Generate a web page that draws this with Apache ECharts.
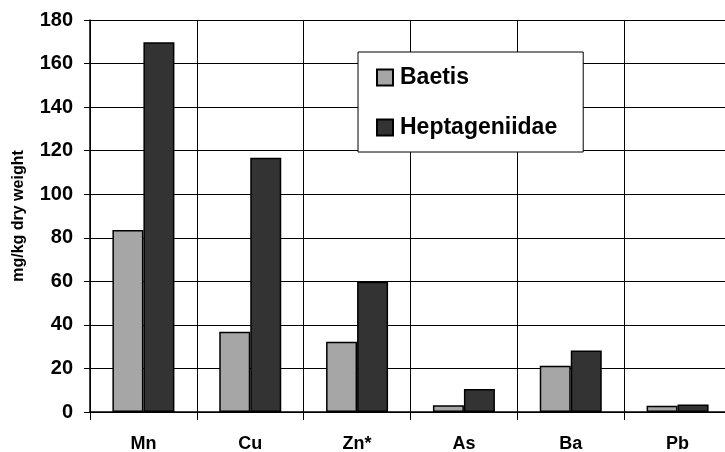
<!DOCTYPE html>
<html>
<head>
<meta charset="utf-8">
<script src="https://cdn.jsdelivr.net/npm/echarts@6/dist/echarts.min.js"></script>
<style>
  html, body { margin: 0; padding: 0; background: #fff; }
  #main { width: 725px; height: 452px; }
</style>
</head>
<body>
<div id="main"></div>
<script>
// values
const elements = ['Mn', 'Cu', 'Zn*', 'As', 'Ba', 'Pb']
const baetis = [83.6, 36.9, 32.3, 3.1, 21.2, 2.9]
const heptageniidae = [169.8, 116.8, 59.8, 10.6, 28.2, 3.5]
const yTicks = [0, 20, 40, 60, 80, 100, 120, 140, 160, 180]

const font = 'Liberation Sans, Arial, sans-serif'

const option = {
  animation: false,
  backgroundColor: '#fff',
  textStyle: { fontFamily: font },
  legend: {
    orient: 'vertical',
    left: 358,
    top: 52,
    padding: [14, 26, 13, 18],
    itemGap: 27,
    itemWidth: 16,
    itemHeight: 16,
    icon: 'rect',
    backgroundColor: '#fff',
    borderColor: '#000',
    borderWidth: 1,
    textStyle: { fontSize: 23, fontWeight: 'bold', color: '#000', fontFamily: font, padding: [0, 0, 0, 2] }
  },
  grid: {
    left: 90,
    top: 20,
    width: 641,
    height: 392,
    outerBoundsMode: 'none'
  },
  xAxis: {
    type: 'category',
    data: elements,
    axisLine: { lineStyle: { color: '#000', width: 1.5 } },
    axisTick: { show: true, length: 8, lineStyle: { color: '#000' } },
    splitLine: { show: true, lineStyle: { color: '#000', width: 1 } },
    axisLabel: { margin: 23, fontSize: 18, fontWeight: 'bold', color: '#000', fontFamily: font }
  },
  yAxis: {
    type: 'value',
    min: yTicks[0],
    max: yTicks[yTicks.length - 1],
    interval: yTicks[1] - yTicks[0],
    name: 'mg/kg dry weight',
    nameLocation: 'middle',
    nameGap: 63,
    nameTextStyle: { fontSize: 16, fontWeight: 'bold', color: '#000', fontFamily: font },
    axisLine: { show: true, lineStyle: { color: '#000', width: 1.5 } },
    axisTick: { show: true, length: 6, lineStyle: { color: '#000' } },
    splitLine: { show: true, lineStyle: { color: '#000', width: 1 } },
    axisLabel: { margin: 17, fontSize: 20, fontWeight: 'bold', color: '#000', fontFamily: font }
  },
  series: [
    {
      name: 'Baetis',
      type: 'bar',
      data: baetis,
      barWidth: 31,
      barGap: '0%',
      itemStyle: { color: '#a6a6a6', borderColor: '#000', borderWidth: 1.5 }
    },
    {
      name: 'Heptageniidae',
      type: 'bar',
      data: heptageniidae,
      barWidth: 31,
      barGap: '0%',
      itemStyle: { color: '#333333', borderColor: '#000', borderWidth: 1.5 }
    }
  ]
}

const chart = echarts.init(document.getElementById('main'))
chart.setOption(option)
</script>
</body>
</html>
